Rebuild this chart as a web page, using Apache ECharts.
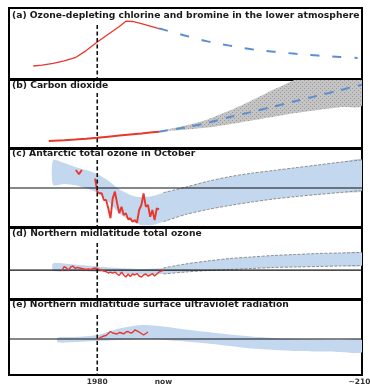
<!DOCTYPE html>
<html><head><meta charset="utf-8">
<script src="https://cdn.jsdelivr.net/npm/echarts@6/dist/echarts.min.js"></script>
<style>html,body{margin:0;padding:0;background:#fff}#c{width:370px;height:385px}</style>
</head><body><div id="c"></div>
<script>
// ---------- DATA (arbitrary relative units, 0-100 per panel) ----------
const panelTitles = [
  '(a) Ozone-depleting chlorine and bromine in the lower atmosphere',
  '(b) Carbon dioxide',
  '(c) Antarctic total ozone in October',
  '(d) Northern midlatitude total ozone',
  '(e) Northern midlatitude surface ultraviolet radiation'
];
const tickYears = [1980, 2010, 2100];
const tickLabels = ['1980', 'now', '~2100'];
const markerYear = 1980;

// (a) halogens
const aObsYears = [1951,1955,1960,1965,1970,1975,1980,1985,1990,1993,1996,2000,2004,2008];
const aObsVals  = [18.3,19.5,22,25.5,30,40,52,63,74,81.5,81,78,74.5,71];
const aProjYears = [2008,2010,2020,2030,2040,2050,2060,2070,2080,2090,2098];
const aProjVals  = [71,69.5,61,53,47,42,38.5,35.5,33,31,29.6];

// (b) carbon dioxide
const bObsYears = [1958,1965,1970,1975,1980,1985,1990,1995,2000,2005,2008];
const bObsVals  = [10.3,11.5,12.5,13.7,15.1,16.7,18.3,19.8,21.3,23,24];
const bProjYears = [2008,2010,2020,2030,2040,2050,2060,2070,2080,2090,2100];
const bProjVals  = [24,25,30.5,37,45.5,53,61,69,77,85,93];
const bBandUpper = [24,26,33,42,55,70,86,101,118,135,152];
const bBandLower = [24,25,27,30,35,40.5,46,51.5,56,60,63];

// (c) Antarctic October ozone
const cBandYears = [1960,1965,1970,1975,1980,1985,1990,1995,2000,2005,2010,2020,2030,2040,2050,2060,2070,2080,2090,2100];
const cBandUpper = [85.5,82,77,73,68,59.4,48.3,41,38,39.7,44,51,58.5,64.5,69,72.5,76,79.5,83,86];
const cBandLower = [54,55,53.5,49.6,44,32.4,17.6,8,2.6,2.6,6.8,16,22.4,27.6,32,35.9,39,41.7,44.2,46.8];
const cRefLevel = 50;
const cEarlyYears = [1970.3,1971.7,1973];
const cEarlyVals  = [73,67.6,73];
const cObsYears = [1979,1980,1981,1982,1983,1984,1985,1986,1987,1988,1989,1990,1991,1992,1993,1994,1995,1996,1997,1998,1999,2000,2001,2002,2003,2004,2005,2006,2007,2008];
const cObsVals  = [62,45.3,43.2,43.2,34.6,34.6,24,11.2,36.8,45.3,30.4,17.6,26,15.4,17.6,9.9,11.2,6.8,9,5.5,21.8,28.2,43.2,26,28.2,13.2,21.8,9,24,22.7];

// (d) northern midlatitude total ozone
const dBandYears = [1960,1970,1980,1990,2000,2010,2020,2030,2040,2050,2060,2070,2080,2090,2100];
const dBandUpper = [50.3,48.6,45.8,43.7,42.3,43.7,49.3,53.5,57,59.2,61.3,62.7,64.1,64.8,65.5];
const dBandLower = [39.9,39.4,38,35.9,34.5,35.2,38,40.1,41.5,43,44.4,45.1,45.8,46.5,47.2];
const dRefLevel = 40.8;
const dObsYears = [1964,1965,1966,1967,1968,1969,1970,1971,1972,1973,1974,1975,1976,1977,1978,1979,1980,1981,1982,1983,1984,1985,1986,1987,1988,1989,1990,1991,1992,1993,1994,1995,1996,1997,1998,1999,2000,2001,2002,2003,2004,2005,2006,2007,2008,2009,2010];
const dObsVals  = [39.9,45.5,43.7,40.8,45.1,46.5,43,44.4,43.7,43,42.3,41.5,42.3,41.5,43,43.7,43,41.5,40.8,39.4,38.7,36.6,38,36.6,38,35.2,33.1,38,33.8,31,35.2,31.7,35.2,33.8,35.9,32.4,31,33.8,35.2,32.4,33.8,35.9,32.4,35.2,38,39.4,39.9];

// (e) northern midlatitude surface UV
const eBandYears = [1962,1970,1980,1990,2000,2010,2020,2030,2040,2050,2060,2070,2080,2090,2100];
const eBandUpper = [49.7,50.7,53.3,62,66.7,64.7,60.7,57.3,54,51.3,49.3,48,47.3,46.7,46.7];
const eBandLower = [43.6,44,45.3,46.7,47.3,46.7,44.7,42,38.7,35.3,33.3,32,31.3,30.7,30.3];
const eRefLevel = 48;
const eObsYears = [1980,1981,1982,1983,1984,1985,1986,1987,1988,1989,1990,1991,1992,1993,1994,1995,1996,1997,1998,1999,2000,2001,2002,2003];
const eObsVals  = [47.6,49.3,50.7,52,52.7,55.3,58,56,55.3,54.7,56.7,56,54.7,57.3,58,56,56.7,60,58.7,57.3,55.3,53.3,55.3,57.3];

// ---------- STYLE ----------
const RED = '#e8372c', BLUE = '#5b8fd1', BAND = '#c3d7ee', EDGE = '#8e8e8e';
const panels = [{top:8,h:71},{top:80,h:68},{top:149,h:78},{top:228,h:71},{top:300,h:75}];
const titleTops = [11, 81, 149, 228.7, 300.4];
const dashTops = [76, 81, 86, 79, 80];

const pc = document.createElement('canvas'); pc.width = 4; pc.height = 4;
const px = pc.getContext('2d');
px.fillStyle = '#c4c4c4'; px.fillRect(0,0,4,4);
px.fillStyle = '#979797'; px.fillRect(0,0,1,1); px.fillRect(2,2,1,1);
const stipple = {image: pc, repeat: 'repeat'};

const zip = (xs, ys) => xs.map((x,i) => [x, ys[i]]);
const since = (xs, ys, y0) => zip(xs, ys).filter(p => p[0] >= y0);

function band(gi, years, up, lo, fill) {
  return {
    type: 'custom', xAxisIndex: gi, yAxisIndex: gi, clip: true, silent: true, z: 1,
    data: [[years[0], lo[0]]],
    renderItem: function (params, api) {
      const pts = [];
      for (let i = 0; i < years.length; i++) pts.push(api.coord([years[i], up[i]]));
      for (let i = years.length - 1; i >= 0; i--) pts.push(api.coord([years[i], lo[i]]));
      return {type: 'polygon', shape: {points: pts, smooth: 0.25}, style: {fill: fill}};
    }
  };
}
function line(gi, data, color, width, dash, z) {
  return {type: 'line', xAxisIndex: gi, yAxisIndex: gi, data: data, symbol: 'none', silent: true,
    smooth: false, z: z || 3, lineStyle: {color: color, width: width, type: dash || 'solid'}};
}
function refLine(gi, level) {
  return line(gi, [[1940, level], [2100, level]], '#111', 1.2, 'solid', 2);
}
function dashMarker(gi) {
  return line(gi, [[markerYear, dashTops[gi]], [markerYear, 0]], '#111', 1.6, [4, 2.5], 5);
}

const grids = panels.map(p => ({left: 9, right: 8, top: p.top, height: p.h, show: true,
  containLabel: false, outerBoundsMode: 'none',
  borderColor: '#000', borderWidth: 2, backgroundColor: 'transparent'}));
const xAxes = panels.map((p, i) => ({
  gridIndex: i, type: 'value', min: 1940, max: 2100, interval: 10,
  axisLine: {show: false}, axisTick: {show: false}, splitLine: {show: false},
  axisLabel: i === 4 ? {
    show: true, margin: 3, showMaxLabel: true, showMinLabel: true, hideOverlap: false,
    fontFamily: 'DejaVu Sans', fontWeight: 'bold', fontSize: 7.5, color: '#333',
    formatter: v => { const k = tickYears.indexOf(v); return k >= 0 ? tickLabels[k] : ''; }
  } : {show: false}
}));
const yAxes = panels.map((p, i) => ({gridIndex: i, type: 'value', min: 0, max: 100, show: false}));

const series = [
  // (a)
  line(0, zip(aObsYears, aObsVals), RED, 1.3, 'solid', 3),
  {...line(0, zip(aProjYears, aProjVals), BLUE, 2, [9, 13], 3), smooth: 0.4},
  dashMarker(0),
  // (b)
  band(1, bProjYears, bBandUpper, bBandLower, stipple),
  line(1, zip(bObsYears, bObsVals), RED, 2, 'solid', 3),
  {...line(1, zip(bProjYears, bProjVals), BLUE, 2, [9, 8], 3), smooth: 0.3},
  dashMarker(1),
  // (c)
  band(2, cBandYears, cBandUpper, cBandLower, BAND),
  {...line(2, since(cBandYears, cBandUpper, 2010), EDGE, 1, [3, 1.5], 2), smooth: 0.3},
  {...line(2, since(cBandYears, cBandLower, 2010), EDGE, 1, [3, 1.5], 2), smooth: 0.3},
  refLine(2, cRefLevel),
  line(2, zip(cEarlyYears, cEarlyVals), RED, 1.9, 'solid', 3),
  line(2, zip(cObsYears, cObsVals), RED, 1.9, 'solid', 3),
  dashMarker(2),
  // (d)
  band(3, dBandYears, dBandUpper, dBandLower, BAND),
  {...line(3, since(dBandYears, dBandUpper, 2010), EDGE, 1, [3, 1.5], 2), smooth: 0.3},
  {...line(3, since(dBandYears, dBandLower, 2010), EDGE, 1, [3, 1.5], 2), smooth: 0.3},
  refLine(3, dRefLevel),
  line(3, zip(dObsYears, dObsVals), RED, 1.4, 'solid', 3),
  dashMarker(3),
  // (e)
  band(4, eBandYears, eBandUpper, eBandLower, BAND),
  refLine(4, eRefLevel),
  line(4, zip(eObsYears, eObsVals), RED, 1.4, 'solid', 3),
  dashMarker(4)
];

const titles = panelTitles.map((t, i) => ({
  text: t, left: 12, top: titleTops[i], padding: 0,
  textStyle: {fontFamily: 'DejaVu Sans', fontWeight: 'bold', fontSize: 9.2, color: '#1a1a1a'}
}));

const chart = echarts.init(document.getElementById('c'), null, {renderer: 'canvas'});
chart.setOption({animation: false, title: titles, grid: grids, xAxis: xAxes, yAxis: yAxes, series: series});
</script></body></html>
